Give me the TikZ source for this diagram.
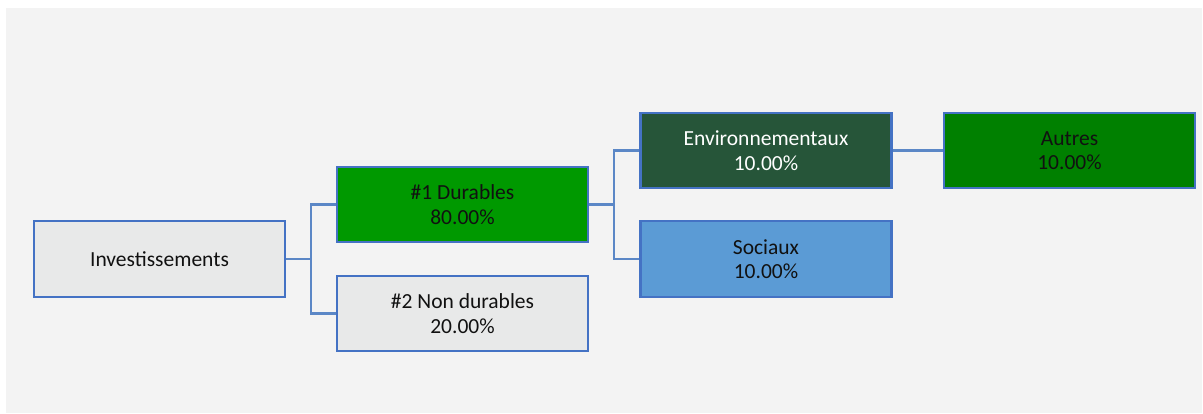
\documentclass[tikz,border=0pt]{standalone}
\usepackage{fontspec}
\setmainfont{Carlito}
\definecolor{bord}{HTML}{4472C4}
\definecolor{conn}{HTML}{5B87C6}
\definecolor{bg}{HTML}{F3F3F3}
\definecolor{lgray}{HTML}{E8E9E9}
\definecolor{green1}{HTML}{009900}
\definecolor{dgreen}{HTML}{265539}
\definecolor{green2}{HTML}{008000}
\definecolor{sblue}{HTML}{5B9BD5}
\definecolor{txt}{HTML}{111111}
\begin{document}
\begin{tikzpicture}[x=1pt,y=-1pt,
  box/.style={draw=bord,line width=2.4pt,minimum width=251pt,minimum height=75.5pt,
    inner sep=0pt,align=center,text=txt,font=\fontsize{21.5}{24.5}\selectfont},
  link/.style={draw=conn,line width=2.2pt}]
\useasboundingbox (0,0) rectangle (1203,414);
\fill[white] (0,0) rectangle (1203,414);
\fill[bg] (6,8) rectangle (1202,413);
\node[box,fill=lgray] (inv) at (159.5,259) {Investissements};
\node[box,fill=green1] (dur) at (462.5,204.5) {\#1 Durables\\80.00\%};
\node[box,fill=lgray] (non) at (462.5,313.5) {\#2 Non durables\\20.00\%};
\node[box,fill=dgreen,text=white] (env) at (766,150.5) {Environnementaux\\10.00\%};
\node[box,fill=sblue] (soc) at (766,259) {Sociaux\\10.00\%};
\node[box,fill=green2] (aut) at (1069.5,150.5) {Autres\\10.00\%};
\coordinate (j1) at (311,259);
\coordinate (j2) at (614,204.5);
\draw[link] (inv.east) -- (j1);
\draw[link] (j1) |- (dur.west);
\draw[link] (j1) |- (non.west);
\draw[link] (dur.east) -- (j2);
\draw[link] (j2) |- (env.west);
\draw[link] (j2) |- (soc.west);
\draw[link] (env.east) -- (aut.west);
\end{tikzpicture}
\end{document}
